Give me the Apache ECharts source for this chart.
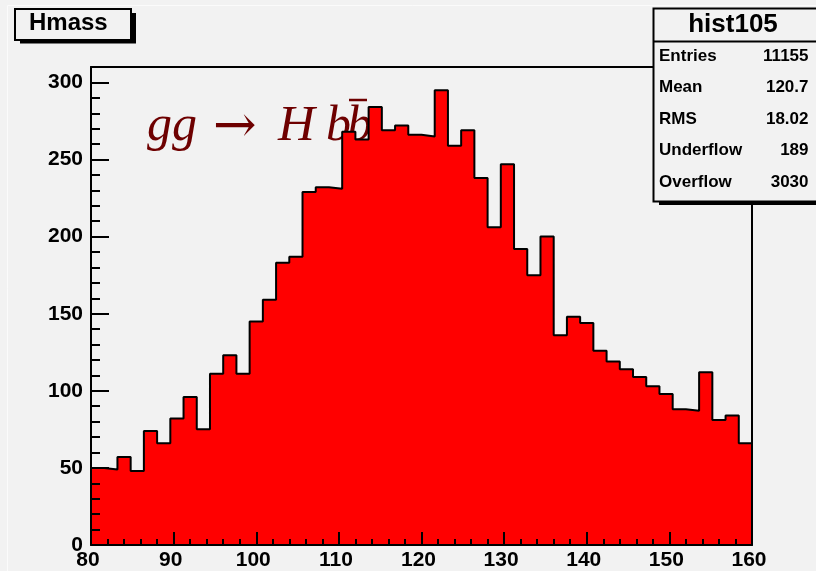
<!DOCTYPE html>
<html>
<head>
<meta charset="utf-8">
<script src="https://cdn.jsdelivr.net/npm/echarts@6/dist/echarts.min.js"></script>
<style>
html,body{margin:0;padding:0;background:#f2f2f2;}
#chart{width:816px;height:571px;}
</style>
</head>
<body>
<div id="chart"></div>
<script>
// ---- data ----
const histName = 'Hmass';
const statsTitle = 'hist105';
const xMin = 80, xMax = 160, binWidth = 1.6;
const binCounts = [50, 49, 57, 48, 74, 66, 82, 96, 75, 111,
                   123, 111, 145, 159, 183, 187, 229, 232, 231, 268,
                   263, 284, 269, 272, 266, 265, 295, 259, 269, 238,
                   206, 247, 192, 175, 200, 136, 148, 144, 126, 119,
                   114, 109, 103, 98, 88, 87, 112, 81, 84, 66];
const statLabels = ['Entries', 'Mean', 'RMS', 'Underflow', 'Overflow'];
const statValues = ['11155', '120.7', '18.02', '189', '3030'];
const yMax = 310;

// ---- build step series from bin edges ----
const stepData = binCounts.map((c, i) => [xMin + i * binWidth, c]);
stepData.push([xMax, binCounts[binCounts.length - 1]]);

const BG = '#f2f2f2';
const SANS = '"Liberation Sans", Arial, Helvetica, sans-serif';
const SERIF = '"Liberation Serif", "Times New Roman", serif';
const FORM = '#6e0000';

const chart = echarts.init(document.getElementById('chart'), null, {renderer: 'canvas'});

const axisLineStyle = {color: '#000', width: 2};
const labelStyle = {fontFamily: SANS, fontWeight: 'bold', fontSize: 21, color: '#000'};

const FY = 127;
const graphics = [
  // subtle canvas border
  {type: 'rect', z: 0, silent: true, shape: {x: 7.5, y: 5.5, width: 900, height: 900},
   style: {fill: null, stroke: '#fbfbfb', lineWidth: 1}},
  // formula (behind histogram)
  {type: 'text', z: 1, x: 147, y: FY, style: {text: 'gg', font: 'italic 50px ' + SERIF, fill: FORM, verticalAlign: 'middle'}},
  {type: 'text', z: 1, x: 213, y: FY + 1, style: {text: '\u2192', font: '52px "DejaVu Serif", serif', fill: FORM, verticalAlign: 'middle'}},
  {type: 'text', z: 1, x: 278, y: FY, style: {text: 'H', font: 'italic 51px ' + SERIF, fill: FORM, verticalAlign: 'middle'}},
  {type: 'text', z: 1, x: 326, y: FY, style: {text: 'b', font: 'italic 50px ' + SERIF, fill: FORM, verticalAlign: 'middle'}},
  {type: 'text', z: 1, x: 347, y: FY, style: {text: 'b', font: 'italic 50px ' + SERIF, fill: FORM, verticalAlign: 'middle'}},
  {type: 'line', z: 1, shape: {x1: 349, y1: 100, x2: 367, y2: 100}, style: {stroke: FORM, lineWidth: 2.5}},
  // title box
  {type: 'rect', z: 100, shape: {x: 20, y: 13, width: 116, height: 30.5}, style: {fill: '#000'}},
  {type: 'rect', z: 101, shape: {x: 15, y: 9, width: 116, height: 31}, style: {fill: BG, stroke: '#000', lineWidth: 2}},
  {type: 'text', z: 102, x: 29, y: 23, style: {text: histName, font: 'bold 24px ' + SANS, fill: '#000', verticalAlign: 'middle'}},
  // stats box
  {type: 'rect', z: 100, shape: {x: 659, y: 12, width: 200, height: 193}, style: {fill: '#000'}},
  {type: 'rect', z: 101, shape: {x: 653.5, y: 8.5, width: 200, height: 193}, style: {fill: BG, stroke: '#000', lineWidth: 2}},
  {type: 'line', z: 102, shape: {x1: 653.5, y1: 41.5, x2: 816, y2: 41.5}, style: {stroke: '#000', lineWidth: 2}},
  {type: 'text', z: 102, x: 733, y: 24.5, style: {text: statsTitle, font: 'bold 26px ' + SANS, fill: '#000', align: 'center', verticalAlign: 'middle'}}
];
statLabels.forEach((lab, i) => {
  const yy = 56 + i * 31.6;
  graphics.push({type: 'text', z: 102, x: 659, y: yy,
    style: {text: lab, font: 'bold 17px ' + SANS, fill: '#000', verticalAlign: 'middle'}});
  graphics.push({type: 'text', z: 102, x: 808.5, y: yy,
    style: {text: statValues[i], font: 'bold 17px ' + SANS, fill: '#000', align: 'right', verticalAlign: 'middle'}});
});

const option = {
  backgroundColor: BG,
  animation: false,
  grid: {left: 91, right: 64, top: 67, bottom: 24, containLabel: false},
  xAxis: [
    {type: 'value', min: xMin, max: xMax, interval: 10, position: 'bottom', z: 10,
     axisLine: {show: true, onZero: false, lineStyle: axisLineStyle},
     axisTick: {show: true, inside: true, length: 13, lineStyle: {color: '#000', width: 2}},
     minorTick: {show: true, splitNumber: 5, length: 6, lineStyle: {color: '#000', width: 2}},
     splitLine: {show: false}, minorSplitLine: {show: false},
     axisLabel: Object.assign({margin: 5, padding: [0, 6, 0, 0]}, labelStyle)},
    {type: 'value', min: xMin, max: xMax, position: 'top', z: 10,
     axisLine: {show: true, onZero: false, lineStyle: axisLineStyle},
     axisTick: {show: false}, axisLabel: {show: false}, splitLine: {show: false}}
  ],
  yAxis: [
    {type: 'value', min: 0, max: yMax, interval: 50, position: 'left', z: 10,
     axisLine: {show: true, onZero: false, lineStyle: axisLineStyle},
     axisTick: {show: true, inside: true, length: 18, lineStyle: {color: '#000', width: 2}},
     splitLine: {show: false},
     axisLabel: Object.assign({margin: 8, showMaxLabel: false}, labelStyle)},
    {type: 'value', min: 0, max: yMax, interval: 10, position: 'left', z: 10,
     axisLine: {show: false},
     axisTick: {show: true, inside: true, length: 9, lineStyle: {color: '#000', width: 2}},
     axisLabel: {show: false}, splitLine: {show: false}},
    {type: 'value', min: 0, max: yMax, position: 'right', z: 10,
     axisLine: {show: true, onZero: false, lineStyle: axisLineStyle},
     axisTick: {show: false}, axisLabel: {show: false}, splitLine: {show: false}}
  ],
  series: [{
    type: 'line',
    xAxisIndex: 0, yAxisIndex: 0,
    step: 'end',
    data: stepData,
    symbol: 'none',
    z: 2,
    lineStyle: {color: '#000', width: 2},
    areaStyle: {color: '#ff0000', opacity: 1, origin: 'start'}
  }],
  graphic: {elements: graphics}
};
chart.setOption(option);
</script>
</body>
</html>
